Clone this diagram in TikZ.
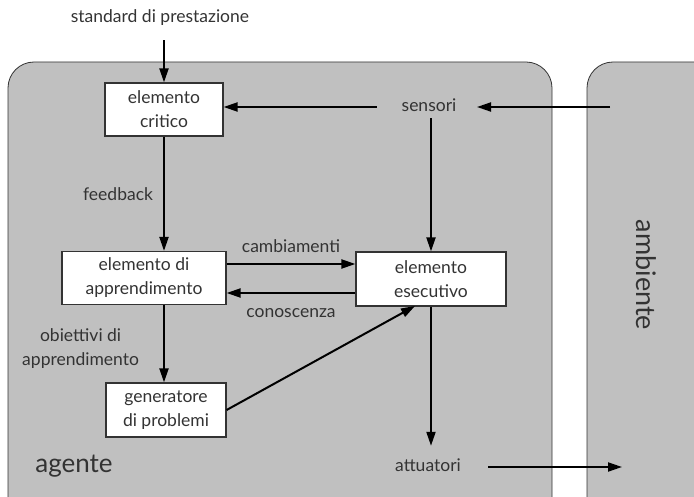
\documentclass[tikz,border=0pt]{standalone}
\usepackage{fontspec}
\setmainfont{Lato}
\usetikzlibrary{arrows.meta}
\definecolor{panel}{HTML}{C0C0C0}
\definecolor{ink}{HTML}{333333}
\begin{document}
\begin{tikzpicture}[x=1pt,y=-1pt,
  every node/.style={font=\fontsize{17.5}{24}\selectfont,text=ink},
  unit/.style={draw=ink,line width=1.2pt,fill=white,align=center,inner sep=0pt},
  flow/.style={line width=2pt,-{Triangle[length=14pt,width=9pt]}},
  lbl/.style={align=center,inner sep=0pt},
  region/.style={draw=black!80,line width=0.8pt,fill=panel,rounded corners=26pt}]
\useasboundingbox (0,0) rectangle (694,497);
\begin{scope}
  \clip (0,0) rectangle (694,497);
  \draw[region] (8,530) -- (8,62) -- (552,62) -- (552,530) -- cycle;
  \draw[region] (587,530) -- (587,62) -- (730,62) -- (730,530) -- cycle;
\end{scope}
% outer labels
\node[lbl] (std) at (160,18) {standard di prestazione};
\node[lbl,font=\fontsize{26}{28}\selectfont] (agente) at (74,466) {agente};
\node[lbl,font=\fontsize{27}{28}\selectfont,rotate=-90] (amb) at (646,275) {ambiente};
% components
\node[unit,minimum width=118pt,minimum height=53pt] (critico) at (164,109.5) {elemento\\critico};
\node[unit,minimum width=164pt,minimum height=53pt] (appr) at (144,278) {elemento di\\apprendimento};
\node[unit,minimum width=120pt,minimum height=54pt] (gen) at (166,410) {generatore\\di problemi};
\node[unit,minimum width=150pt,minimum height=54pt] (esec) at (431,279) {elemento\\esecutivo};
\node[lbl,minimum width=100pt,minimum height=26pt] (sens) at (429,105) {sensori};
\node[lbl,minimum width=80pt,minimum height=38pt] (att) at (428,465) {attuatori};
\coordinate (envin) at (610,107);
\coordinate (envout) at (622,467);
% connectors
\draw[flow] (std.south -| critico.north) ++(0,14) -- (critico.north);
\draw[flow] (sens.west |- 0,107) ++(-2,0) -- (critico.east |- 0,107);
\draw[flow] (envin) -- (477,107);
\draw[flow] (sens.south -| esec.north) -- (esec.north);
\draw[flow] (critico.south) -- node[lbl,left=10pt] {feedback} (appr.north -| critico.south);
\draw[flow] (appr.east |- 0,264) -- node[lbl,above=10pt] {cambiamenti} (esec.west |- 0,264);
\draw[flow] (esec.west |- 0,293) -- node[lbl,below=14pt] {conoscenza} (appr.east |- 0,293);
\draw[flow] (appr.south -| critico.south) -- node[lbl,left=24pt,yshift=-5pt] {obiettivi di\\apprendimento} (gen.north -| critico.south);
\draw[flow] (gen.east) -- (415,306);
\draw[flow] (esec.south) -- (att.north -| esec.south);
\draw[flow] (att.east |- 0,467) ++(20,0) -- (envout);
\end{tikzpicture}
\end{document}
